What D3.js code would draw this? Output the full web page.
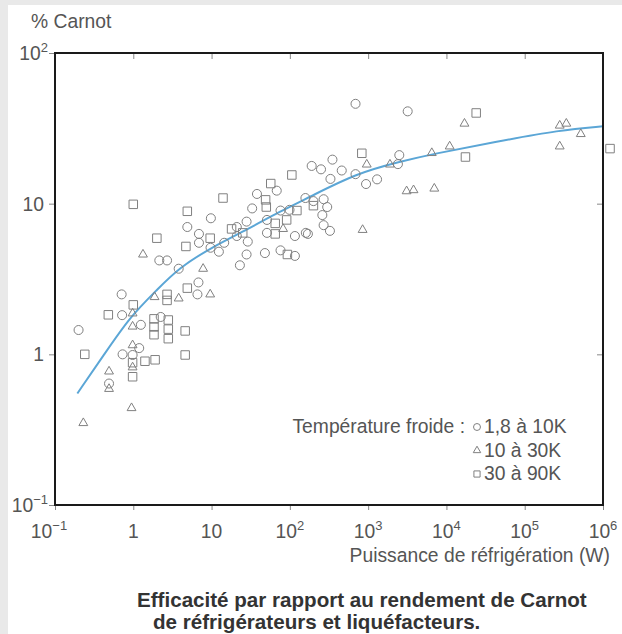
<!DOCTYPE html>
<html>
<head>
<meta charset="utf-8">
<script src="https://cdn.jsdelivr.net/npm/d3@7"></script>
<style>
  body { margin: 0; background: #fff; }
  svg { display: block; font-family: "Liberation Sans", Arial, sans-serif; }
</style>
</head>
<body>
<svg id="chart" width="622" height="634"></svg>
<script>
// puissance (W), % Carnot
const circles = [
  [0.2, 1.45], [0.71, 2.5], [0.72, 1.82], [1.25, 1.57], [2.24, 1.77], [0.73, 1.0],
  [0.98, 0.99], [1.19, 1.1], [0.49, 0.64], [2.15, 4.2], [2.7, 4.2], [3.8, 3.7],
  [4.9, 7.0], [6.8, 3.0], [6.6, 2.5], [6.9, 6.3], [6.9, 5.5], [9.8, 8.0],
  [9.7, 5.1], [12.4, 4.8], [14.5, 5.5], [21, 7.0], [21, 6.1], [23, 3.9],
  [28, 7.6], [29, 5.6], [28, 4.6], [33, 9.3], [38, 11.6], [68, 12.2],
  [48, 4.7], [51, 6.4], [51, 7.8], [76, 9.0], [76, 4.9], [99, 9.1],
  [116, 4.5], [116, 6.1], [160, 6.4], [158, 10.9], [190, 17.8], [250, 16.9],
  [350, 19.6], [460, 16.6], [330, 14.6], [690, 15.7], [940, 13.5], [1300, 14.5],
  [200, 10.4], [270, 10.7], [300, 9.5], [260, 8.4], [270, 7.2], [325, 6.6],
  [170, 6.3], [690, 46], [3200, 41], [2500, 21], [2400, 18.3]
];

const triangles = [
  [0.23, 0.35], [0.49, 0.77], [0.49, 0.59], [0.95, 0.44], [0.98, 0.82], [0.98, 1.53],
  [0.98, 1.87], [0.98, 1.15], [1.33, 4.6], [1.87, 2.4], [3.8, 2.35], [7.8, 3.7],
  [9.6, 2.5], [82, 6.8], [850, 6.7], [960, 18.2], [1900, 18.2], [3100, 12.1],
  [3800, 12.3], [7000, 12.6], [6500, 21.7], [11000, 24], [17000, 34],
  [2.8e5, 33], [3.4e5, 34], [5.2e5, 29], [2.8e5, 24]
];

const squares = [
  [0.24, 1.0], [0.48, 1.83], [1.0, 2.13], [0.98, 0.88], [0.98, 0.71], [1.0, 9.9],
  [1.41, 0.9], [1.9, 0.92], [1.84, 1.72], [1.84, 1.52], [1.84, 1.35], [2.8, 1.69],
  [2.8, 1.47], [2.8, 1.27], [4.6, 1.43], [4.6, 0.99], [2.7, 2.5], [2.7, 2.28],
  [4.9, 2.75], [2.0, 5.9], [4.9, 8.9], [4.7, 5.2], [9.6, 5.9], [14, 10.9],
  [18, 6.8], [25, 6.4], [49, 10.6], [50, 9.5], [57, 13.6], [65, 7.4],
  [65, 6.3], [91, 7.8], [93, 4.6], [106, 15.5], [123, 9.0], [200, 9.7],
  [830, 21.6], [24000, 40], [17500, 20.4], [1.23e6, 23.2]
];

// courbe moyenne
const trend = [
  [0.193, 0.55], [0.42, 0.99], [0.91, 1.78], [2.0, 2.67], [3.76, 3.73], [10.5, 5.2],
  [28, 6.7], [74, 8.85], [181, 11.1], [713, 15.9], [2550, 19], [6800, 21.4],
  [44000, 25.8], [2.8e5, 30.8], [1e6, 32.6]
];

const xTicks = [0.1, 1, 10, 100, 1e3, 1e4, 1e5, 1e6];
const xTickLabels = [["10", "−1"], ["1", ""], ["10", ""], ["10", "2"], ["10", "3"], ["10", "4"], ["10", "5"], ["10", "6"]];
const yTicks = [0.1, 1, 10, 100];
const yTickLabels = [["10", "−1"], ["1", ""], ["10", ""], ["10", "2"]];

const seriesNames = ["1,8 à 10K", "10 à 30K", "30 à 90K"];
const legendTitle = "Température froide :";
const yTitle = "% Carnot";
const xTitle = "Puissance de réfrigération (W)";
const caption = ["Efficacité par rapport au rendement de Carnot", "de réfrigérateurs et liquéfacteurs."];

const svg = d3.select("#chart");

// bord gris du scan
svg.append("rect").attr("width", 622).attr("height", 634).attr("fill", "#fff");
svg.append("rect").attr("width", 622).attr("height", 5).attr("fill", "#e9e9e9");
svg.append("rect").attr("width", 8).attr("height", 634).attr("fill", "#e9e9e9");

const plotLeft = 55, plotRight = 603, plotTop = 53, plotBottom = 505;
const fs = 19.3;

const x = d3.scaleLog().domain([0.1, 1e6]).range([plotLeft, plotRight]);
const y = d3.scaleLog().domain([0.1, 100]).range([plotBottom, plotTop]);

function powLabel(sel, t) {
  sel.append("tspan").text(t[0]);
  if (t[1]) sel.append("tspan").attr("dy", -8).attr("font-size", 13).text(t[1]);
}

// axes
const axL = svg.append("g").attr("transform", `translate(${plotLeft},0)`)
  .call(d3.axisLeft(y).tickValues(yTicks).tickSize(6).tickFormat(""));
const axB = svg.append("g").attr("transform", `translate(0,${plotBottom})`)
  .call(d3.axisBottom(x).tickValues(xTicks).tickSize(5).tickFormat(""));
const axT = svg.append("g").attr("transform", `translate(0,${plotTop})`)
  .call(d3.axisTop(x).tickValues(xTicks.slice(1, -1)).tickSize(-6).tickFormat(""));
const axR = svg.append("g").attr("transform", `translate(${plotRight},0)`)
  .call(d3.axisRight(y).tickValues([1, 10]).tickSize(-6).tickFormat(""));
[axL, axB, axT, axR].forEach(g => {
  g.select(".domain").remove();
  g.selectAll(".tick line").attr("stroke", "#888").attr("stroke-width", 1);
});

yTicks.forEach((v, i) => {
  const t = svg.append("text")
    .attr("x", yTickLabels[i][1] ? 48 : 44).attr("y", y(v) + 7)
    .attr("text-anchor", "end")
    .attr("font-size", fs).attr("fill", "#555");
  powLabel(t, yTickLabels[i]);
});

xTicks.forEach((v, i) => {
  const t = svg.append("text")
    .attr("x", x(v) - (i === 0 ? 6 : 0)).attr("y", 538)
    .attr("text-anchor", "middle")
    .attr("font-size", fs).attr("fill", "#555");
  powLabel(t, xTickLabels[i]);
});

// courbe
svg.append("path")
  .datum(trend)
  .attr("fill", "none")
  .attr("stroke", "#5ba6d6")
  .attr("stroke-width", 2)
  .attr("d", d3.line().x(d => x(d[0])).y(d => y(d[1])).curve(d3.curveBasis));

// points
const shapes = [
  { data: circles, type: d3.symbolCircle, size: 64 },
  { data: triangles, type: d3.symbolTriangle, size: 34 },
  { data: squares, type: d3.symbolSquare, size: 72 }
];

shapes.forEach(s => {
  svg.append("g").selectAll("path")
    .data(s.data)
    .join("path")
    .attr("transform", d => `translate(${x(d[0])},${y(d[1])})`)
    .attr("d", d3.symbol().type(s.type).size(s.size))
    .attr("fill", "none")
    .attr("stroke", "#808080")
    .attr("stroke-width", 1);
});

// cadre
svg.append("rect")
  .attr("x", plotLeft).attr("y", plotTop)
  .attr("width", plotRight - plotLeft).attr("height", plotBottom - plotTop)
  .attr("fill", "none")
  .attr("stroke", "#1a1a1a")
  .attr("stroke-width", 2);

// titres
svg.append("text").attr("x", 31).attr("y", 28)
  .attr("font-size", fs).attr("fill", "#555").text(yTitle);
svg.append("text").attr("x", 610).attr("y", 562)
  .attr("text-anchor", "end")
  .attr("font-size", fs).attr("fill", "#555").text(xTitle);

// légende
svg.append("text").attr("x", 465).attr("y", 433)
  .attr("text-anchor", "end")
  .attr("font-size", fs).attr("fill", "#555").text(legendTitle);

const legendShapes = [d3.symbolCircle, d3.symbolTriangle, d3.symbolSquare];
seriesNames.forEach((name, i) => {
  const ly = 433 + i * 23.5;
  svg.append("path")
    .attr("transform", `translate(477,${ly - 6})`)
    .attr("d", d3.symbol().type(legendShapes[i]).size(i === 1 ? 24 : 38))
    .attr("fill", "none")
    .attr("stroke", "#808080");
  svg.append("text").attr("x", 484).attr("y", ly)
    .attr("font-size", fs).attr("fill", "#555").text(name);
});

// légende de la figure
svg.append("text").attr("x", 137).attr("y", 607)
  .attr("font-size", 20.6).attr("font-weight", "bold").attr("fill", "#333").text(caption[0]);
svg.append("text").attr("x", 153).attr("y", 629)
  .attr("font-size", 20.6).attr("font-weight", "bold").attr("fill", "#333").text(caption[1]);
</script>
</body>
</html>
